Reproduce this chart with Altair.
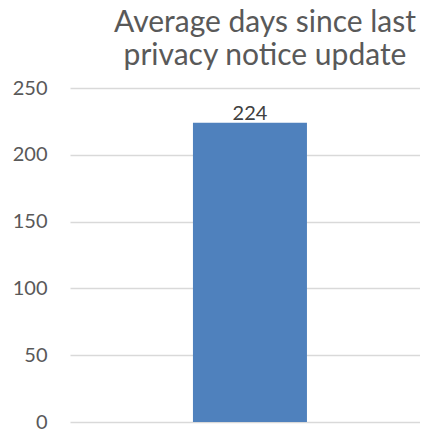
import altair as alt
import pandas as pd

categories = ["Privacy notice"]
values = [224]
y_ticks = [0, 50, 100, 150, 200, 250]
title_lines = ["Average days since last", "privacy notice update"]

df = pd.DataFrame({"cat": categories, "days": values})

FONT = "Lato"
GREY = "#595959"

base = alt.Chart(df).encode(
    x=alt.X("cat:N", axis=None,
            scale=alt.Scale(paddingInner=0.5, paddingOuter=0.5175, align=0.521)),
)

bars = base.mark_bar(color="#4F81BD").encode(
    y=alt.Y("days:Q",
            scale=alt.Scale(domain=[0, 250], nice=False, zero=True),
            axis=alt.Axis(values=y_ticks, title=None, domain=False, ticks=False,
                          grid=True, gridColor="#D9D9D9", gridWidth=1.3,
                          labelFont=FONT, labelFontSize=20, labelColor=GREY,
                          labelPadding=23)),
)

labels = base.mark_text(font=FONT, fontSize=20, color="#404040", baseline="alphabetic", dy=-3).encode(
    y=alt.Y("days:Q"),
    text=alt.Text("days:Q"),
)

chart = alt.layer(bars, labels).properties(
    width=350,
    height=334,
    autosize=alt.AutoSizeParams(type="none"),
    padding={"left": 62, "top": 80, "right": 0, "bottom": 8},
    title=alt.TitleParams(text=title_lines, font=FONT, fontSize=30, fontWeight="normal",
                          color=GREY, anchor="middle", baseline="alphabetic",
                          lineHeight=33, offset=25, dx=20, dy=42),
).configure_view(stroke=None)

chart.save("out.html", embed_options={"renderer": "svg", "actions": False})
